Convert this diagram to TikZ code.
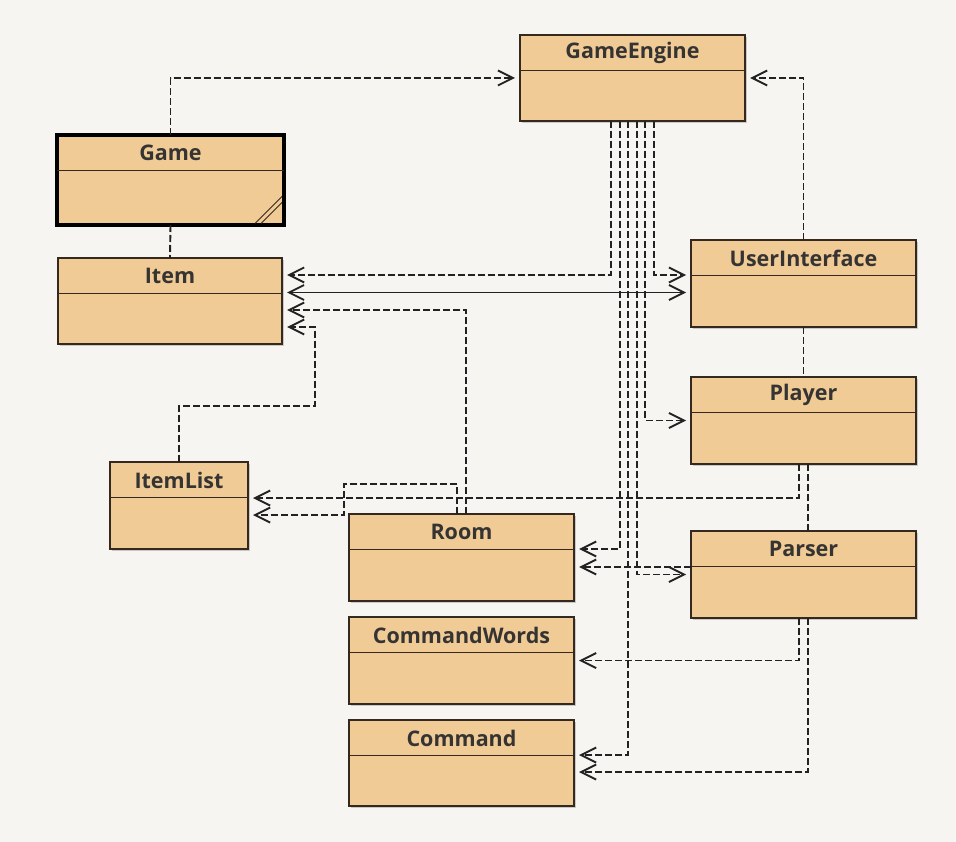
\documentclass[tikz,border=0pt]{standalone}
\usepackage{fontspec}
\setmainfont{Open Sans}
\usetikzlibrary{arrows.meta,calc,shadows}

\definecolor{bg}{HTML}{F6F5F1}
\definecolor{classfill}{HTML}{F0CB96}
\definecolor{classedge}{HTML}{35281E}
\definecolor{ink}{HTML}{222222}
\definecolor{titleink}{HTML}{363432}

% one class: #1 extra style, #2 name, #3 left, #4 top, #5 width, #6 height, #7 title
\newcommand\umlclass[7][]{%
  \node[umlbox,#1,minimum width=#5pt,minimum height=#6pt] (#2) at (#3,#4) {};
  \draw[headerrule] ($(#2.north west)+(0,35.5)$) -- ($(#2.north east)+(0,35.5)$);
  \node[titletext] (#2-title) at ($(#2.north)+(0,18)$) {#7};
}

\begin{document}
\begin{tikzpicture}[x=1pt,y=-1pt,
  umlbox/.style={rectangle, anchor=north west, inner sep=0pt, outer sep=0pt,
    draw=classedge, line width=1.8pt, fill=classfill,
    drop shadow={shadow xshift=2pt, shadow yshift=-2pt, opacity=0.18, fill=black}},
  gamebox/.style={draw=black, line width=4pt},
  headerrule/.style={draw=classedge, line width=1.5pt},
  titletext/.style={inner sep=0pt, text=titleink,
    font=\fontsize{21.5}{24}\selectfont\bfseries},
  tip/.style={-{Straight Barb[length=15pt,width=15pt]}},
  dep/.style={draw=ink, line width=1.9pt, dash pattern=on 7pt off 3pt,
    tip, shorten >=5pt},
  link/.style={draw=ink, line width=1.9pt, dash pattern=on 7pt off 3pt},
  assoc/.style={draw=ink, line width=1.8pt,
    {Straight Barb[length=15pt,width=15pt]}-{Straight Barb[length=15pt,width=15pt]},
    shorten >=5pt, shorten <=5pt},
  hatch/.style={draw=classedge, line width=1pt}
]
% canvas
\fill[bg] (0,0) rectangle (956,842);
\useasboundingbox (0,0) rectangle (956,842);

% classes
\umlclass{ge}{520}{35}{225}{86}{GameEngine}
\umlclass[gamebox]{game}{57}{135}{227}{90}{Game}
\umlclass{item}{58}{258}{224}{86}{Item}
\umlclass{ui}{691}{240}{225}{87}{UserInterface}
\umlclass{player}{691}{377}{225}{87}{Player}
\umlclass{itemlist}{110}{462}{138}{87}{ItemList}
\umlclass{room}{349}{514}{225}{87}{Room}
\umlclass{parser}{691}{531}{225}{87}{Parser}
\umlclass{commandwords}{349}{617}{225}{87}{CommandWords}
\umlclass{command}{349}{720}{225}{86}{Command}

% hatch mark in the corner of Game
\draw[hatch] ($(game.south east)+(-29,-1.5)$) -- ($(game.south east)+(-2,-28.5)$);
\draw[hatch] ($(game.south east)+(-23,-1.5)$) -- ($(game.south east)+(-2,-22.5)$);

% bend points
\coordinate (jog1) at (315,406);
\coordinate (jog2) at (344,484);
\coordinate (iu) at ([yshift=8.5pt]item.east);
\coordinate (pr) at ([yshift=7.5pt]parser.west);

% Game
\draw[dep] (game.north) |- (ge.west);
\draw[link] (game.south) -- (item.north);

% GameEngine dependencies
\draw[dep] ([xshift=-21.25pt]ge.south) |- ([yshift=26pt]item.east);
\draw[dep] ([xshift=-12.75pt]ge.south) |- ([yshift=8.5pt]room.east);
\draw[dep] ([xshift=-4.25pt]ge.south) |- ([yshift=8pt]command.east);
\draw[dep] ([xshift=4.25pt]ge.south) |- (parser.west);
\draw[dep] ([xshift=12.75pt]ge.south) |- (player.west);
\draw[dep] ([xshift=21.25pt]ge.south) |- ([yshift=8.5pt]ui.west);

% Item
\draw[assoc] (iu) -- (iu -| ui.west);
\draw[dep] ([xshift=4.5pt]room.north) |- ([yshift=-9pt]item.east);
\draw[dep] (itemlist.north) |- (jog1) |- ([yshift=-26pt]item.east);

% ItemList
\draw[dep] ([xshift=-4.5pt]player.south) |- ([yshift=7.5pt]itemlist.east);
\draw[dep] ([xshift=-4.5pt]room.north) |- (jog2) |- ([yshift=-9.5pt]itemlist.east);

% UserInterface, Player, Parser
\draw[dep] (ui.north) |- (ge.east);
\draw[link] (ui.south) -- (player.north);
\draw[link] ([xshift=4.5pt]player.south) -- ([xshift=4.5pt]parser.north);
\draw[dep] (pr) -- (pr -| room.east);
\draw[dep] ([xshift=-4.5pt]parser.south) |- (commandwords.east);
\draw[dep] ([xshift=4.5pt]parser.south) |- ([yshift=-9pt]command.east);
\end{tikzpicture}
\end{document}
